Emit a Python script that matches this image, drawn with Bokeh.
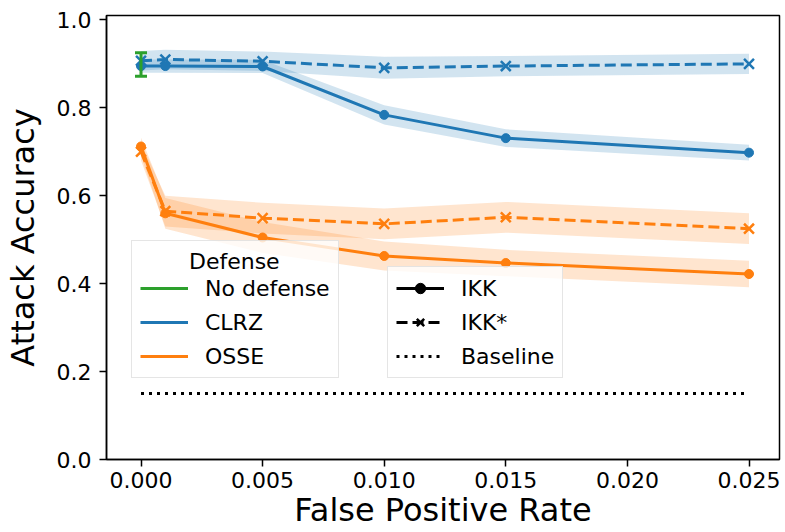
from bokeh.plotting import figure
from bokeh.models import (Legend, LegendItem,
                          FixedTicker, PrintfTickFormatter, Range1d)
from bokeh.embed import file_html
from bokeh.resources import INLINE

# ---------------- data ----------------
fpr = [0.0, 0.001, 0.005, 0.010, 0.015, 0.025]

clrz_ikk = [0.895, 0.895, 0.894, 0.784, 0.731, 0.698]
clrz_ikk_ci = [0.015, 0.015, 0.015, 0.022, 0.020, 0.018]
clrz_ikkstar = [0.907, 0.910, 0.906, 0.891, 0.895, 0.900]
clrz_ikkstar_ci = [0.022, 0.022, 0.022, 0.025, 0.023, 0.023]

osse_ikk = [0.712, 0.560, 0.505, 0.463, 0.447, 0.422]
osse_ikk_ci = [0.020, 0.035, 0.035, 0.033, 0.030, 0.030]
osse_ikkstar = [0.700, 0.565, 0.549, 0.536, 0.551, 0.525]
osse_ikkstar_ci = [0.020, 0.035, 0.035, 0.035, 0.035, 0.035]

nodef_x = [0.0]
nodef_mean = [0.898]
nodef_lo = [0.872]
nodef_hi = [0.925]

baseline_x = [0.0, 0.025]
baseline_acc = [0.15, 0.15]

x_ticks = [0.0, 0.005, 0.010, 0.015, 0.020, 0.025]
y_ticks = [0.0, 0.2, 0.4, 0.6, 0.8, 1.0]

defense_title = "Defense"
defense_labels = ["No defense", "CLRZ", "OSSE"]
attack_labels = ["IKK", "IKK*", "Baseline"]

BLUE = "#1f77b4"
ORANGE = "#ff7f0e"
GREEN = "#2ca02c"
FONT = "DejaVu Sans"

# ---------------- figure ----------------
p = figure(width=785, height=532, output_backend="svg", toolbar_location=None,
           x_range=Range1d(-0.001419, 0.026254), y_range=Range1d(0, 1.01),
           min_border_left=106, min_border_right=6, min_border_top=15,
           min_border_bottom=73)
p.xgrid.visible = False
p.ygrid.visible = False
p.outline_line_color = "black"
p.outline_line_width = 1.5
p.background_fill_color = "white"
p.border_fill_color = "white"

for ax in (p.xaxis, p.yaxis):
    ax.major_label_text_font = FONT
    ax.major_label_text_font_size = "22px"
    ax.major_label_text_color = "black"
    ax.axis_line_color = "black"
    ax.axis_line_width = 1.5
    ax.major_tick_line_color = "black"
    ax.major_tick_line_width = 1.5
    ax.major_tick_in = 0
    ax.major_tick_out = 7
    ax.minor_tick_line_color = None
    ax.axis_label_text_font = FONT
    ax.axis_label_text_font_size = "32px"
    ax.axis_label_text_font_style = "normal"
    ax.axis_label_text_color = "black"

p.xaxis.ticker = FixedTicker(ticks=x_ticks)
p.xaxis.formatter = PrintfTickFormatter(format="%.3f")
p.xaxis.major_label_standoff = 5
p.xaxis.axis_label = "False Positive Rate"
p.xaxis.axis_label_standoff = 0
p.yaxis.ticker = FixedTicker(ticks=y_ticks)
p.yaxis.formatter = PrintfTickFormatter(format="%.1f")
p.yaxis.major_label_standoff = 8
p.yaxis.axis_label = "Attack Accuracy"
p.yaxis.axis_label_standoff = 12


def band(mean, ci, color):
    lo = [m - c for m, c in zip(mean, ci)]
    hi = [m + c for m, c in zip(mean, ci)]
    p.varea(x=fpr, y1=lo, y2=hi, fill_color=color, fill_alpha=0.2)


band(clrz_ikk, clrz_ikk_ci, BLUE)
band(clrz_ikkstar, clrz_ikkstar_ci, BLUE)
band(osse_ikk, osse_ikk_ci, ORANGE)
band(osse_ikkstar, osse_ikkstar_ci, ORANGE)

solid = {}
for name, mean, color in (("clrz", clrz_ikk, BLUE), ("osse", osse_ikk, ORANGE)):
    solid[name] = p.line(fpr, mean, line_color=color, line_width=3)
    p.scatter(fpr, mean, marker="circle", size=9, fill_color=color,
              line_color=color, line_width=1)
for mean, color in ((clrz_ikkstar, BLUE), (osse_ikkstar, ORANGE)):
    p.line(fpr, mean, line_color=color, line_width=3, line_dash="11 5")
    p.scatter(fpr, mean, marker="x", size=14, line_color=color, line_width=2.5)

# baseline
r_base = p.line(baseline_x, baseline_acc, line_color="black", line_width=3,
                line_dash="3 5")

# no defense error bar
r_nd = p.segment(x0=nodef_x, y0=nodef_lo, x1=nodef_x, y1=nodef_hi,
                 line_color=GREEN, line_width=3)
p.scatter(nodef_x, nodef_lo, marker="dash", size=12, line_color=GREEN,
          line_width=3)
p.scatter(nodef_x, nodef_hi, marker="dash", size=12, line_color=GREEN,
          line_width=3)

# ---------------- legend-only (hidden) black renderers ----------------
r_ikk_l = p.line(baseline_x, baseline_acc, line_color="black", line_width=3,
                 visible=False)
r_ikk_m = p.scatter(baseline_x, baseline_acc, marker="circle", size=9,
                    fill_color="black", line_color="black", visible=False)
r_ik2_l = p.line(baseline_x, baseline_acc, line_color="black", line_width=3,
                 line_dash="11 5", visible=False)
r_ik2_m = p.scatter(baseline_x, baseline_acc, marker="x", size=14,
                    line_color="black", line_width=2.5, visible=False)


def style_legend(lg):
    lg.label_text_font = FONT
    lg.label_text_font_size = "22px"
    lg.label_text_color = "black"
    lg.padding = 8
    lg.margin = 0
    lg.spacing = 8
    lg.glyph_width = 48
    lg.glyph_height = 26
    lg.label_height = 26
    lg.label_standoff = 17
    lg.border_line_color = "#cccccc"
    lg.border_line_width = 1.5
    lg.background_fill_color = "white"
    lg.background_fill_alpha = 0.8


# title centred over the items: padded with no-break spaces
leg1 = Legend(items=[LegendItem(label=defense_labels[0], renderers=[r_nd]),
                     LegendItem(label=defense_labels[1], renderers=[solid["clrz"]]),
                     LegendItem(label=defense_labels[2], renderers=[solid["osse"]])],
              location=(25, 81), title="\u00a0" * 7 + defense_title)
style_legend(leg1)
leg1.title_text_font = FONT
leg1.title_text_font_size = "22px"
leg1.title_text_font_style = "normal"
leg1.title_text_color = "black"
leg1.title_standoff = 1
p.add_layout(leg1)

leg2 = Legend(items=[LegendItem(label=attack_labels[0], renderers=[r_ikk_l, r_ikk_m]),
                     LegendItem(label=attack_labels[1], renderers=[r_ik2_l, r_ik2_m]),
                     LegendItem(label=attack_labels[2], renderers=[r_base])],
              location=(281, 81))
style_legend(leg2)
p.add_layout(leg2)

open("out.html", "w").write(file_html(p, INLINE))
